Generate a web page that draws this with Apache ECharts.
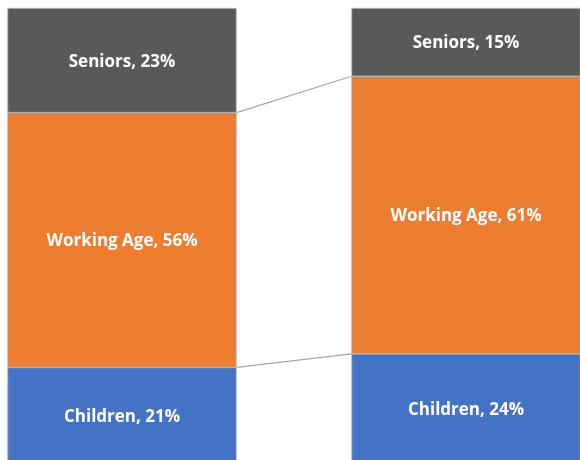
<!DOCTYPE html>
<html>
<head>
<meta charset="utf-8">
<script src="https://cdn.jsdelivr.net/npm/echarts@6/dist/echarts.min.js"></script>
<style>
  html, body { margin: 0; padding: 0; background: #fff; }
  #chart { width: 580px; height: 460px; }
</style>
</head>
<body>
<div id="chart"></div>
<script>
var categories = ['Before', 'After'];
var children = [21, 24];
var working = [56, 61];
var seniors = [23, 15];

// boundaries between stacked segments, used for the connector lines
var boundaries = [
    [0, children[0], children[1]],
    [0, children[0] + working[0], children[1] + working[1]]
];

var BAR_RATIO = 0.666;

function barSeries(name, data, color) {
    return {
        name: name,
        type: 'bar',
        stack: 'total',
        barWidth: (BAR_RATIO * 100) + '%',
        data: data,
        itemStyle: { color: color, borderColor: '#A6A6A6', borderWidth: 0.75 },
        label: {
            show: true,
            position: 'inside',
            offset: [0, 1.5],
            formatter: '{a}, {c}%',
            color: '#fff',
            fontFamily: 'Open Sans',
            fontWeight: 'bold',
            fontSize: 17
        }
    };
}

var option = {
    animation: false,
    // bars sit partly outside the visible area, so the grid overhangs the canvas
    grid: { left: -50, right: -58, top: 8, bottom: -3, outerBoundsMode: 'none', containLabel: false },
    xAxis: { type: 'category', data: categories, show: false },
    yAxis: { type: 'value', min: 0, max: 100, show: false },
    series: [
        barSeries('Children', children, '#4472C4'),
        barSeries('Working Age', working, '#ED7D31'),
        barSeries('Seniors', seniors, '#595959'),
        {
            type: 'custom',
            data: boundaries,
            encode: { x: 0, y: [1, 2] },
            z: 3,
            renderItem: function (params, api) {
                var half = api.size([1, 0])[0] * BAR_RATIO / 2;
                var p0 = api.coord([0, api.value(1)]);
                var p1 = api.coord([1, api.value(2)]);
                return {
                    type: 'line',
                    shape: { x1: p0[0] + half, y1: p0[1], x2: p1[0] - half, y2: p1[1] },
                    style: { stroke: '#A6A6A6', lineWidth: 1.2 }
                };
            }
        }
    ]
};

var myChart = echarts.init(document.getElementById('chart'));
myChart.setOption(option);
</script>
</body>
</html>
